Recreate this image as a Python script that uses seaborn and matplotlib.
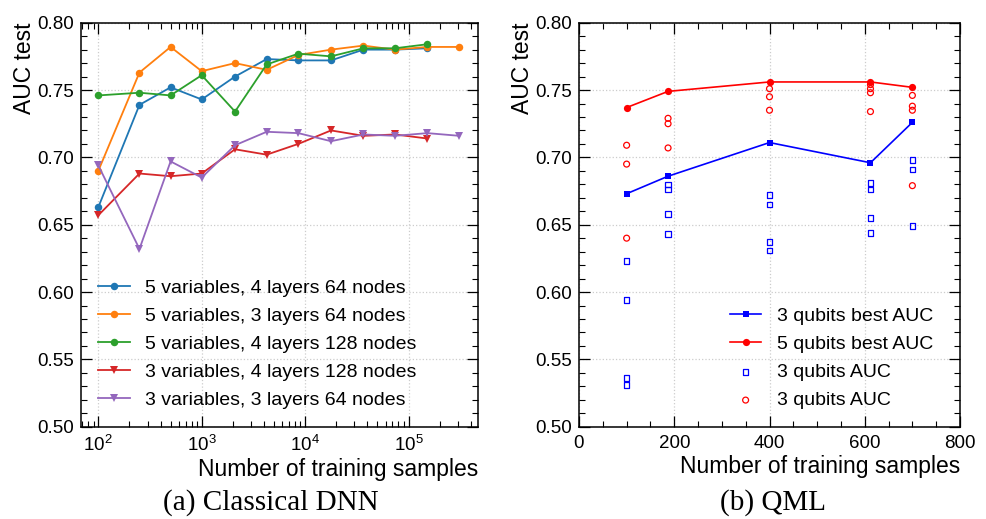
import numpy as np
import pandas as pd
import matplotlib
matplotlib.use("Agg")
import matplotlib.pyplot as plt
from matplotlib.ticker import MultipleLocator, FormatStrFormatter
import seaborn as sns

plt.rcParams['font.family'] = ['Liberation Sans', 'DejaVu Sans']
plt.rcParams['mathtext.fontset'] = 'custom'
plt.rcParams['mathtext.rm'] = 'Liberation Sans'
plt.rcParams['mathtext.it'] = 'Liberation Sans:italic'

# ---- (a) Classical DNN ----
n_train = [100, 250, 500, 1000, 2100, 4250, 8600, 17800, 36700, 74000, 152000, 310000]
cfg_labels = ['5 variables, 4 layers 64 nodes',
              '5 variables, 3 layers 64 nodes',
              '5 variables, 4 layers 128 nodes',
              '3 variables, 4 layers 128 nodes',
              '3 variables, 3 layers 64 nodes']
auc_5v4l64 = [0.663, 0.739, 0.752, 0.743, 0.760, 0.773, 0.772, 0.772, 0.780, 0.780, 0.781]
auc_5v3l64 = [0.690, 0.763, 0.782, 0.764, 0.770, 0.765, 0.776, 0.780, 0.783, 0.780, 0.782, 0.782]
auc_5v4l128 = [0.746, 0.748, 0.746, 0.761, 0.734, 0.769, 0.777, 0.775, 0.781, 0.781, 0.784]
auc_3v4l128 = [0.657, 0.688, 0.686, 0.688, 0.706, 0.702, 0.710, 0.720, 0.716, 0.717, 0.714]
auc_3v3l64 = [0.694, 0.632, 0.697, 0.685, 0.709, 0.719, 0.718, 0.712, 0.717, 0.716, 0.718, 0.716]
cfg_markers = ['o', 'o', 'o', 'v', 'v']

# ---- (b) QML ----
qml_n = [100, 187, 400, 612, 700]
best_3q = [0.673, 0.686, 0.711, 0.696, 0.726]
best_5q = [0.737, 0.749, 0.756, 0.756, 0.752]
all_3q_n = [100, 100, 100, 100, 187, 187, 187, 187, 400, 400, 400, 400,
            612, 612, 612, 612, 700, 700, 700]
all_3q = [0.623, 0.594, 0.536, 0.531, 0.680, 0.676, 0.658, 0.643, 0.672, 0.665, 0.637, 0.631,
          0.681, 0.676, 0.655, 0.644, 0.698, 0.691, 0.649]
all_5q_n = [100, 100, 100, 187, 187, 187, 400, 400, 400, 612, 612, 612, 612, 700, 700, 700, 700]
all_5q = [0.709, 0.695, 0.640, 0.729, 0.725, 0.707, 0.751, 0.745, 0.735,
          0.754, 0.751, 0.748, 0.734, 0.746, 0.738, 0.735, 0.679]

rows = []
for lab, vals in zip(cfg_labels, [auc_5v4l64, auc_5v3l64, auc_5v4l128, auc_3v4l128, auc_3v3l64]):
    for n, v in zip(n_train, vals):
        rows.append({'n': n, 'auc': v, 'config': lab})
df_dnn = pd.DataFrame(rows)


def style_ax(ax):
    ax.tick_params(which='both', direction='in', top=True, right=True, labelsize=13.5)
    ax.tick_params(which='major', length=8, width=0.9, pad=5)
    ax.tick_params(which='minor', length=4.5, width=0.8)
    ax.tick_params(axis='x', which='major', pad=6)
    for s in ax.spines.values():
        s.set_linewidth(1.1)
    ax.grid(True, which='major', linestyle=':', color='#cccccc', linewidth=0.9)
    ax.set_axisbelow(True)
    ax.set_ylim(0.5, 0.8)
    ax.yaxis.set_major_locator(MultipleLocator(0.05))
    ax.yaxis.set_minor_locator(MultipleLocator(0.01))
    ax.yaxis.set_major_formatter(FormatStrFormatter('%.2f'))
    ax.set_ylabel('AUC test', loc='top', fontsize=16.5, labelpad=1)
    ax.set_xlabel('Number of training samples', loc='right', fontsize=16.5, labelpad=2)


fig = plt.figure(figsize=(9.87, 5.19), dpi=100)
ax1 = fig.add_axes([81 / 987, 1 - 426.7 / 519, 397 / 987, 404 / 519])
ax2 = fig.add_axes([579 / 987, 1 - 426.7 / 519, 381 / 987, 404 / 519])

sns.lineplot(data=df_dnn, x='n', y='auc', hue='config', style='config',
             hue_order=cfg_labels, style_order=cfg_labels,
             palette=sns.color_palette('tab10', 5), markers=cfg_markers, dashes=False,
             markersize=5.4, markeredgewidth=0, linewidth=1.3, ax=ax1)
ax1.set_xscale('log')
ax1.set_xlim(68, 4.7e5)
style_ax(ax1)
leg = ax1.get_legend()
handles = leg.legend_handles
labels = [t.get_text() for t in leg.get_texts()]
ax1.legend(handles, labels, loc='lower left', bbox_to_anchor=(0.0, 0.0), frameon=False,
           fontsize=14, labelspacing=0.54, handlelength=1.6, handletextpad=0.8)

sns.scatterplot(x=all_3q_n, y=all_3q, marker='s', s=16, facecolor='none', edgecolor='blue',
                linewidth=0.9, label='3 qubits AUC', ax=ax2, zorder=2)
sns.scatterplot(x=all_5q_n, y=all_5q, marker='o', s=18, facecolor='none', edgecolor='red',
                linewidth=0.9, label='3 qubits AUC', ax=ax2, zorder=2)
sns.lineplot(x=qml_n, y=best_3q, color='blue', marker='s', markersize=5, markeredgewidth=0,
             linewidth=1.2, label='3 qubits best AUC', ax=ax2, zorder=3)
sns.lineplot(x=qml_n, y=best_5q, color='red', marker='o', markersize=5.2, markeredgewidth=0,
             linewidth=1.2, label='5 qubits best AUC', ax=ax2, zorder=3)
ax2.set_xlim(0, 800)
ax2.xaxis.set_major_locator(MultipleLocator(200))
ax2.xaxis.set_minor_locator(MultipleLocator(50))
style_ax(ax2)
h, l = ax2.get_legend_handles_labels()
order = [2, 3, 0, 1]
ax2.legend([h[i] for i in order], [l[i] for i in order], loc='lower right',
           bbox_to_anchor=(0.975, 0.0), frameon=False, fontsize=14, labelspacing=0.54,
           handlelength=1.6, handletextpad=0.8, scatterpoints=1)

fig.text(270.5 / 987, 1 - 503 / 519, '(a) Classical DNN', family='Liberation Serif',
         fontsize=21, ha='center', va='center')
fig.text(773.5 / 987, 1 - 503 / 519, '(b) QML', family='Liberation Serif',
         fontsize=21, ha='center', va='center')

fig.savefig('out.png', dpi=100)
